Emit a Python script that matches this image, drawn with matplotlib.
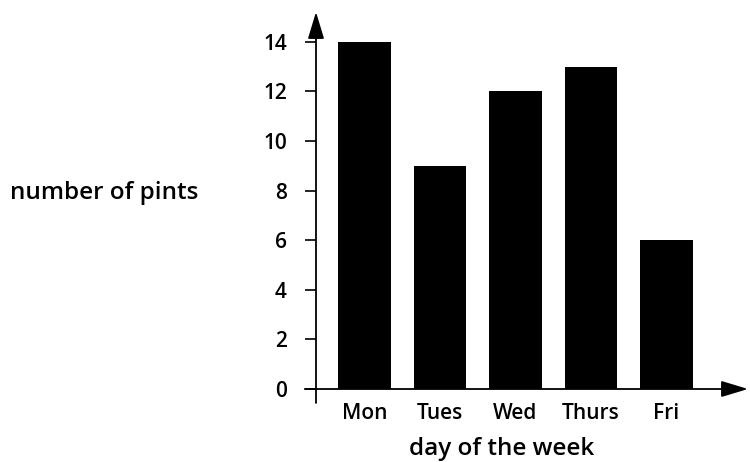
import matplotlib.pyplot as plt

days = ['Mon', 'Tues', 'Wed', 'Thurs', 'Fri']
pints = [14, 9, 12, 13, 6]
yticks = [0, 2, 4, 6, 8, 10, 12, 14]

plt.rcParams['font.family'] = ['Open Sans', 'DejaVu Sans']
plt.rcParams['font.weight'] = 'semibold'

fig = plt.figure(figsize=(7.5, 4.62), dpi=100)
ax = fig.add_axes([316 / 750, 73 / 462, 432 / 750, 377 / 462])

x = range(len(days))
ax.bar(x, pints, width=0.7, color='black')

ax.set_xlim(-0.642, 5.079)
ax.set_ylim(0, 15.2)

for s in ax.spines.values():
    s.set_visible(False)

ax.set_xticks(list(x))
ax.set_xticklabels(days, fontsize=15)
ax.set_yticks(yticks)
ax.set_yticklabels([str(v) for v in yticks], fontsize=15)
ax.tick_params(axis='x', length=0, pad=10)
ax.tick_params(axis='y', length=8, width=1.2, pad=13)

# axis lines with arrows
arrow = dict(arrowstyle='-|>,head_length=1.65,head_width=0.5',
             color='black', lw=1.3, shrinkA=0, shrinkB=0)
ax.annotate('', xy=(0, 1), xytext=(0, -0.037), xycoords='axes fraction',
            arrowprops=arrow)
ax.annotate('', xy=(1, 0), xytext=(-0.026, 0), xycoords='axes fraction',
            arrowprops=arrow)

fig.text(502 / 750, (462 - 449) / 462, 'day of the week', fontsize=17.5,
         ha='center', va='center')
fig.text(104 / 750, (462 - 193) / 462, 'number of pints', fontsize=17.5,
         ha='center', va='center')

fig.savefig('out.png', dpi=100)
